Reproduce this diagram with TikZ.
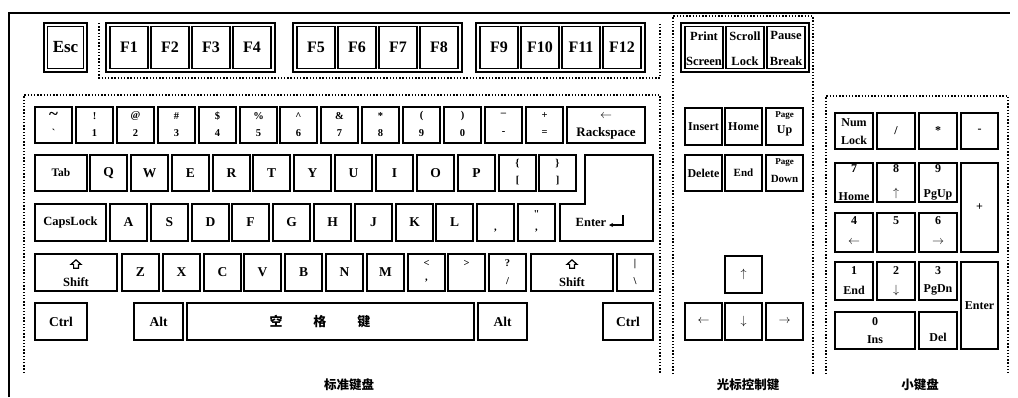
\documentclass[tikz,border=0pt]{standalone}
\usepackage{fontspec}
\setmainfont{Liberation Serif}
\newfontfamily\cjk{Noto Sans CJK SC}
\usetikzlibrary{calc,arrows.meta}
\newcommand\fs[1]{\fontsize{#1}{#1}\selectfont}
\tikzset{
  key/.style={draw,line width=1.7pt,inner sep=0pt,outer sep=0pt},
  fk/.style={draw,line width=1.4pt,inner sep=0pt,outer sep=0pt},
  lab/.style={inner sep=0pt,outer sep=0pt},
  zone/.style={line width=1.8pt,dash pattern=on 1.4pt off 1.8pt},
  frameline/.style={line width=2.8pt,line join=miter},
  glyph/.style={line width=1.2pt,line join=miter},
}
% \KK[style]{name}{x1}{y1}{x2}{y2}{text}
\newcommand\KK[7][key]{\node[#1,minimum width={(#5)-(#3)},minimum height={(#6)-(#4)}] (#2) at ({((#3)+(#5))/2},{((#4)+(#6))/2}) {#7};}
% \KT{name}{x1}{y1}{x2}{y2}{top}{bottom}{ftop}{fbottom}
\newcommand\KT[9]{\KK{#1}{#2}{#3}{#4}{#5}{}%
  \node[lab] (#1-t) at ($(#1.north)!#8!(#1.south)$) {#6};%
  \node[lab] (#1-b) at ($(#1.north)!#9!(#1.south)$) {#7};}
\newcommand\shiftarrow[1]{\draw[glyph] ($(#1)+(0,-4.5)$) -- ++(5,4.5) -- ++(-2.6,0) -- ++(0,3.8) -- ++(-4.8,0) -- ++(0,-3.8) -- ++(-2.6,0) -- cycle;}
\begin{document}
\begin{tikzpicture}[x=1pt,y=-1pt]
\useasboundingbox (0,0) rectangle (1018,397);
% outer frame
\coordinate (fr-a) at (9,397);
\coordinate (fr-b) at (9,13);
\coordinate (fr-c) at (1010,13);
\draw[frameline] (fr-a) -- (fr-b) -- (fr-c);
% zones
\draw[zone] (99,23) -- (99,78) -- (660,78) -- (660,23);
\draw[zone] (24,373) -- (24,95) -- (660,95) -- (660,373);
\draw[zone] (673,374) -- (673,16) -- (813,16) -- (813,374);
\draw[zone] (826,374) -- (826,96) -- (1008,96) -- (1008,374);

% ---------- top row ----------
\begin{scope}[font=\bfseries\fs{16}]
\KK[fk]{escg}{44}{23}{87}{72}{}
\KK[fk]{esc}{47.5}{26.5}{83.5}{68.5}{\fs{17}Esc}
\KK[fk]{g1}{106}{23}{275}{72}{}
\KK[fk]{f1}{110}{26.5}{148}{68.5}{F1}
\KK[fk]{f2}{151}{26.5}{189}{68.5}{F2}
\KK[fk]{f3}{192}{26.5}{230}{68.5}{F3}
\KK[fk]{f4}{233}{26.5}{271}{68.5}{F4}
\KK[fk]{g2}{293}{23}{462}{72}{}
\KK[fk]{f5}{297}{26.5}{335}{68.5}{F5}
\KK[fk]{f6}{338}{26.5}{376}{68.5}{F6}
\KK[fk]{f7}{379}{26.5}{417}{68.5}{F7}
\KK[fk]{f8}{420}{26.5}{458}{68.5}{F8}
\KK[fk]{g3}{476}{23}{645}{72}{}
\KK[fk]{f9}{480}{26.5}{518}{68.5}{F9}
\KK[fk]{f10}{521}{26.5}{559}{68.5}{F10}
\KK[fk]{f11}{562}{26.5}{600}{68.5}{F11}
\KK[fk]{f12}{603}{26.5}{641}{68.5}{F12}
\end{scope}
\begin{scope}[font=\bfseries\fs{12.5}]
\KK[fk]{g4}{681}{23}{809}{72}{}
\KT{prt}{685}{26.5}{723}{68.5}{Print}{Screen}{0.22}{0.82}
\KT{scr}{726}{26.5}{764}{68.5}{Scroll}{Lock}{0.22}{0.82}
\KT{pau}{767}{26.5}{805}{68.5}{Pause}{Break}{0.22}{0.82}
\end{scope}

% ---------- number row ----------
\begin{scope}[font=\bfseries\fs{10.5}]
\KT{n0}{35}{107}{72}{143}{\fs{17}\textasciitilde}{\textasciigrave}{0.25}{0.72}
\KT{n1}{76}{107}{113}{143}{!}{1}{0.25}{0.72}
\KT{n2}{117}{107}{154}{143}{@}{2}{0.25}{0.72}
\KT{n3}{158}{107}{195}{143}{\#}{3}{0.25}{0.72}
\KT{n4}{199}{107}{236}{143}{\$}{4}{0.25}{0.72}
\KT{n5}{240}{107}{277}{143}{\%}{5}{0.25}{0.72}
\KT{n6}{280}{107}{317}{143}{\textasciicircum}{6}{0.25}{0.72}
\KT{n7}{321}{107}{358}{143}{\&}{7}{0.25}{0.72}
\KT{n8}{362}{107}{399}{143}{*}{8}{0.25}{0.72}
\KT{n9}{403}{107}{440}{143}{(}{9}{0.25}{0.72}
\KT{n10}{444}{107}{481}{143}{)}{0}{0.25}{0.72}
\KT{n11}{485}{107}{522}{143}{\_}{-}{0.18}{0.72}
\KT{n12}{526}{107}{563}{143}{+}{=}{0.25}{0.72}
\KT{bksp}{567}{107}{645}{143}{\fs{13}\(\leftarrow\)}{\fs{13}Rackspace}{0.27}{0.72}
\end{scope}

% ---------- letter rows ----------
\begin{scope}[font=\bfseries\fs{13.5}]
\KK{tab}{35}{155}{87}{191}{\fs{11.5}Tab}
\KK{kq}{90}{155}{127}{191}{Q}
\KK{kw}{131}{155}{168}{191}{W}
\KK{ke}{172}{155}{209}{191}{E}
\KK{kr}{213}{155}{250}{191}{R}
\KK{kt}{253}{155}{290}{191}{T}
\KK{ky}{294}{155}{331}{191}{Y}
\KK{ku}{335}{155}{372}{191}{U}
\KK{ki}{376}{155}{413}{191}{I}
\KK{ko}{417}{155}{454}{191}{O}
\KK{kp}{458}{155}{495}{191}{P}
\end{scope}
\begin{scope}[font=\bfseries\fs{10.5}]
\KT{lbr}{499}{155}{536}{191}{\{}{[}{0.25}{0.72}
\KT{rbr}{539}{155}{576}{191}{\}}{]}{0.25}{0.72}
\end{scope}
% Enter (L shape)
\draw[key] (585,155) -- (653,155) -- (653,241) -- (560,241) -- (560,204) -- (585,204) -- cycle;
\node[lab,font=\bfseries\fs{12.5}] (enterlbl) at (591,222) {Enter};
\coordinate (ent-a) at (623,215);
\coordinate (ent-b) at (623,225);
\coordinate (ent-c) at (609,225);
\draw[line width=1.1pt,-{Stealth[length=4pt,width=4pt]}] (ent-a) -- (ent-b) -- (ent-c);

\begin{scope}[font=\bfseries\fs{13.5}]
\KK{caps}{35}{204}{106}{241}{\fs{12.5}CapsLock}
\KK{ka}{110}{204}{147}{241}{A}
\KK{ks}{151}{204}{188}{241}{S}
\KK{kd}{192}{204}{229}{241}{D}
\KK{kf}{232}{204}{269}{241}{F}
\KK{kg}{273}{204}{310}{241}{G}
\KK{kh}{314}{204}{351}{241}{H}
\KK{kj}{355}{204}{392}{241}{J}
\KK{kk}{396}{204}{433}{241}{K}
\KK{kl}{436}{204}{473}{241}{L}
\end{scope}
\begin{scope}[font=\bfseries\fs{10.5}]
\KT{semi}{477}{204}{514}{241}{}{,}{0.25}{0.72}
\KT{quot}{518}{204}{555}{241}{\textquotedbl}{,}{0.28}{0.72}
\end{scope}

\begin{scope}[font=\bfseries\fs{13.5}]
\KK{lsh}{35}{254}{117}{291}{}
\node[lab,font=\bfseries\fs{12.5}] (lsh-b) at ($(lsh.north)!0.77!(lsh.south)$) {Shift};
\coordinate (lsh-a) at ($(lsh.north)!0.28!(lsh.south)$);
\shiftarrow{lsh-a}
\KK{kz}{122}{254}{159}{291}{Z}
\KK{kx}{163}{254}{200}{291}{X}
\KK{kc}{204}{254}{241}{291}{C}
\KK{kv}{244}{254}{281}{291}{V}
\KK{kb}{285}{254}{322}{291}{B}
\KK{kn}{326}{254}{363}{291}{N}
\KK{km}{367}{254}{404}{291}{M}
\KK{rsh}{531}{254}{613}{291}{}
\node[lab,font=\bfseries\fs{12.5}] (rsh-b) at ($(rsh.north)!0.77!(rsh.south)$) {Shift};
\coordinate (rsh-a) at ($(rsh.north)!0.28!(rsh.south)$);
\shiftarrow{rsh-a}
\end{scope}
\begin{scope}[font=\bfseries\fs{10.5}]
\KT{klt}{408}{254}{445}{291}{<}{,}{0.25}{0.72}
\KT{kgt}{448}{254}{485}{291}{>}{}{0.25}{0.72}
\KT{kqm}{489}{254}{526}{291}{?}{/}{0.25}{0.72}
\KT{kbs}{617}{254}{653}{291}{|}{\textbackslash}{0.27}{0.72}
\end{scope}

\begin{scope}[font=\bfseries\fs{13.5}]
\KK{lctrl}{35}{303}{87}{340}{Ctrl}
\KK{lalt}{134}{303}{183}{340}{Alt}
\KK{space}{187}{303}{474}{340}{}
\node[lab,font=\cjk\bfseries\fs{13}] (spacetxt) at (320,321.5) {空\hspace{31pt}格\hspace{31pt}键};
\KK{ralt}{478}{303}{527}{340}{Alt}
\KK{rctrl}{603}{303}{653}{340}{Ctrl}
\end{scope}

% ---------- cursor block ----------
\begin{scope}[font=\bfseries\fs{12}]
\KK{ins}{685}{108}{722}{145}{Insert}
\KK{home}{725}{108}{762}{145}{Home}
\KT{pgup}{766}{108}{803}{145}{\fs{9}Page}{Up}{0.2}{0.62}
\KK{del}{685}{155}{722}{191}{Delete}
\KK{end}{725}{155}{762}{191}{\fs{11}End}
\KT{pgdn}{766}{155}{803}{191}{\fs{9}Page}{\fs{11}Down}{0.22}{0.66}
\KK{up}{725}{256}{762}{293}{\fs{13}\(\uparrow\)}
\KK{left}{685}{303}{722}{340}{\fs{13}\(\leftarrow\)}
\KK{down}{725}{303}{762}{340}{\fs{13}\(\downarrow\)}
\KK{right}{766}{303}{803}{340}{\fs{13}\(\rightarrow\)}
\end{scope}

% ---------- numeric keypad ----------
\begin{scope}[font=\bfseries\fs{12}]
\KT{numl}{835}{113}{873}{149}{Num}{Lock}{0.27}{0.75}
\KK{kdiv}{877}{113}{915}{149}{/}
\KK{kmul}{919}{113}{957}{149}{*}
\KK{kmin}{961}{113}{998}{149}{-}
\KT{k7}{835}{163}{873}{202}{7}{Home}{0.15}{0.85}
\KT{k8}{877}{163}{915}{202}{8}{\(\uparrow\)}{0.15}{0.78}
\KT{k9}{919}{163}{957}{202}{9}{PgUp}{0.15}{0.83}
\KK{kplus}{961}{163}{998}{252}{+}
\KT{k4}{835}{213}{873}{252}{4}{\(\leftarrow\)}{0.2}{0.75}
\KT{k5}{877}{213}{915}{252}{5}{}{0.2}{0.75}
\KT{k6}{919}{213}{957}{252}{6}{\(\rightarrow\)}{0.2}{0.75}
\KT{k1}{835}{262}{873}{300}{1}{End}{0.22}{0.74}
\KT{k2}{877}{262}{915}{300}{2}{\(\downarrow\)}{0.22}{0.74}
\KT{k3}{919}{262}{957}{300}{3}{PgDn}{0.22}{0.74}
\KK{kent}{961}{262}{998}{349}{Enter}
\KT{k0}{835}{312}{915}{349}{0}{Ins}{0.27}{0.76}
\KT{kdel}{919}{312}{957}{349}{}{Del}{0.3}{0.68}
\end{scope}

% ---------- captions ----------
\node[lab,font=\cjk\bfseries\fs{12.5}] (cap-main) at (349,385) {标准键盘};
\node[lab,font=\cjk\bfseries\fs{12.5}] (cap-cur) at (748,385) {光标控制键};
\node[lab,font=\cjk\bfseries\fs{12.5}] (cap-num) at (920,385) {小键盘};
\end{tikzpicture}
\end{document}
